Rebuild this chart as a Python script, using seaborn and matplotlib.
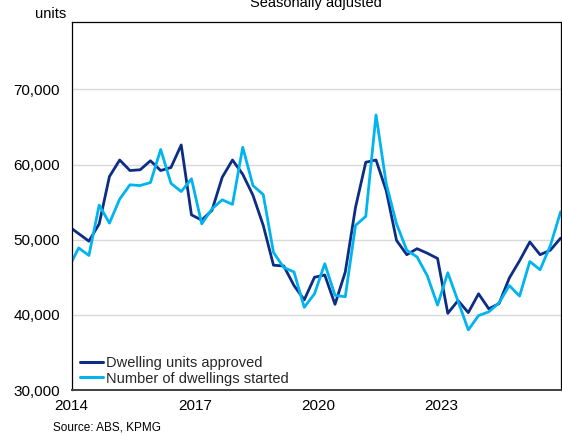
import numpy as np
import pandas as pd
import matplotlib
matplotlib.use("Agg")
import matplotlib.pyplot as plt
import seaborn as sns

# Quarterly observations, first point Dec-2013 (clipped at the 2014 axis edge)
quarters = [2013.92 + 0.25 * i for i in range(49)]

approved = [51800, 50800, 49800, 52100, 58400, 60600, 59200, 59300, 60500, 59200,
            59600, 62600, 53300, 52600, 53900, 58300, 60600, 58700, 55900, 51900,
            46600, 46500, 43900, 42000, 45000, 45300, 41400, 45700, 54300, 60300,
            60600, 56500, 49900, 48000, 48800, 48200, 47500, 40200, 41900, 40300,
            42800, 40800, 41500, 44900, 47200, 49700, 48000, 48600, 50200]

started = [46200, 48900, 47900, 54600, 52200, 55400, 57300, 57200, 57600, 62000,
           57500, 56400, 58100, 52100, 54100, 55300, 54700, 62300, 57200, 56000,
           48300, 46300, 45700, 41000, 42800, 46800, 42600, 42400, 51900, 53100,
           66600, 57400, 52100, 48600, 47700, 45200, 41300, 45600, 41800, 38000,
           39900, 40400, 41600, 43900, 42500, 47100, 46000, 49200, 53700]

series_names = ["Dwelling units approved", "Number of dwellings started"]
x_ticks = [2014, 2017, 2020, 2023]
x_ticklabels = ["2014", "2017", "2020", "2023"]
y_ticks = [30000, 40000, 50000, 60000, 70000]
y_ticklabels = ["30,000", "40,000", "50,000", "60,000", "70,000"]

df = pd.DataFrame({
    "quarter": quarters * 2,
    "value": approved + started,
    "series": [series_names[0]] * len(approved) + [series_names[1]] * len(started),
})

sns.set_style("white")
plt.rcParams["font.family"] = ["Liberation Sans", "DejaVu Sans"]

W, H = 562, 436
fig = plt.figure(figsize=(W / 100, H / 100), dpi=100)
left, right, top, bottom = 71.7, 561.0, 21.7, 390.0
ax = fig.add_axes([left / W, (H - bottom) / H, (right - left) / W, (bottom - top) / H])

palette = {series_names[0]: "#0C2D83", series_names[1]: "#00B4F0"}
sns.lineplot(data=df, x="quarter", y="value", hue="series", palette=palette,
             linewidth=2.0, ax=ax, legend=True)

ax.set_xlim(2014.0, 2025.93)
ax.set_ylim(30000, 79000)
ax.set_xticks(x_ticks)
ax.set_xticklabels(x_ticklabels)
ax.set_yticks(y_ticks)
ax.set_yticklabels(y_ticklabels)
ax.set_xlabel("")
ax.set_ylabel("")

ax.yaxis.grid(True, color="#D9D9D9", linewidth=1.0)
ax.xaxis.grid(False)
ax.set_axisbelow(True)

for s in ["left", "top", "right"]:
    ax.spines[s].set_color("#000000")
    ax.spines[s].set_linewidth(0.9)
ax.spines["bottom"].set_color("#404040")
ax.spines["bottom"].set_linewidth(1.4)

ax.tick_params(axis="both", which="both", direction="out", length=3.5, width=0.8,
               color="#000000", labelsize=11, labelcolor="#000000")
ax.tick_params(axis="y", pad=5)
ax.tick_params(axis="x", pad=3)

leg = ax.legend(loc="lower left", bbox_to_anchor=(0.017, 0.012), frameon=False,
                fontsize=10.5, handlelength=1.6, handletextpad=0.15,
                labelspacing=0.1, borderaxespad=0.0, borderpad=0.0)
for line in leg.get_lines():
    line.set_linewidth(2.2)

fig.text(66 / W, 1 - 14 / H, "units", ha="right", va="center", fontsize=10.5, color="#000000")
fig.text((left + right) / 2 / W, 1 - 3 / H, "Seasonally adjusted", ha="center", va="center",
         fontsize=10.5, color="#000000")
fig.text(53 / W, 1 - 427 / H, "Source: ABS, KPMG", ha="left", va="center",
         fontsize=8.5, color="#000000")

fig.savefig("out.png", dpi=100)
